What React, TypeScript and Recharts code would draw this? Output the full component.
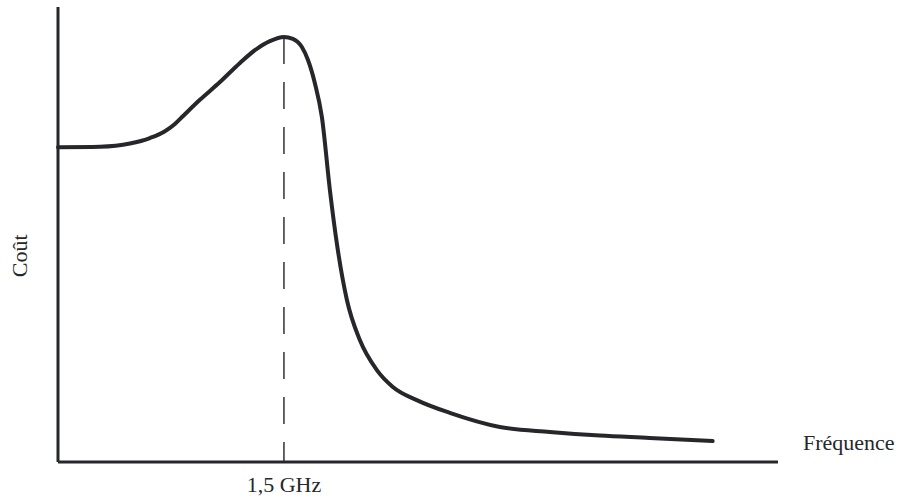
import { LineChart, Line, XAxis, YAxis, ReferenceLine } from "recharts";

// fréquence (GHz) et coût (unités arbitraires)
const freq = [
  0, 0.279, 0.478, 0.61, 0.71, 0.776, 0.829, 0.942, 1.075, 1.208, 1.307, 1.407,
  1.5, 1.559, 1.619, 1.659, 1.705, 1.752, 1.805, 1.851, 1.918, 2.004, 2.117,
  2.223, 2.382, 2.601, 2.933, 3.265, 3.597, 3.928, 4.346,
];
const cost = [
  69.2, 69.3, 70.0, 71.2, 72.7, 74.3, 76.0, 79.6, 83.5, 87.7, 90.5, 92.5, 93.4,
  93.0, 91.2, 88.4, 83.3, 75.8, 59.8, 48.1, 35.6, 26.8, 20.2, 16.5, 13.6, 10.8,
  7.7, 6.6, 5.8, 5.3, 4.6,
];
const xTicks = [1.5];
const peakFreq = 1.5;
const peakCost = cost[freq.indexOf(peakFreq)];

const data = freq.map((f, i) => ({ f, c: cost[i] }));

const ink = "#25272a";
const font = "'Liberation Serif', 'Times New Roman', serif";

export default function App() {
  return (
    <div style={{ position: "absolute", left: 0, top: 0, background: "#fff" }}>
      <LineChart
        width={903}
        height={497}
        data={data}
        margin={{ top: 7, right: 125, left: 56, bottom: 5 }}
      >
        <XAxis
          dataKey="f"
          type="number"
          domain={[0, 4.78]}
          ticks={xTicks}
          tickFormatter={(v: number) => `${String(v).replace(".", ",")} GHz`}
          tickLine={false}
          tickMargin={8}
          height={30}
          axisLine={{ stroke: ink, strokeWidth: 3 }}
          tick={{ fontSize: 22, fill: ink, fontFamily: font }}
          label={{
            value: "Fréquence",
            position: "right",
            offset: 25,
            dy: -35,
            fontSize: 22,
            fill: ink,
            fontFamily: font,
          }}
        />
        <YAxis
          type="number"
          domain={[0, 100]}
          width={2}
          tick={false}
          tickLine={false}
          axisLine={{ stroke: ink, strokeWidth: 3 }}
          label={{
            value: "Coût",
            angle: -90,
            position: "left",
            offset: 37,
            fontSize: 22,
            fill: ink,
            fontFamily: font,
          }}
        />
        <ReferenceLine
          segment={[
            { x: peakFreq, y: peakCost },
            { x: peakFreq, y: 0 },
          ]}
          stroke="#333"
          strokeWidth={1.5}
          strokeDasharray="27 18"
        />
        <Line
          type="monotone"
          dataKey="c"
          stroke={ink}
          strokeWidth={4}
          strokeLinecap="round"
          dot={false}
          activeDot={false}
          isAnimationActive={false}
        />
      </LineChart>
    </div>
  );
}
